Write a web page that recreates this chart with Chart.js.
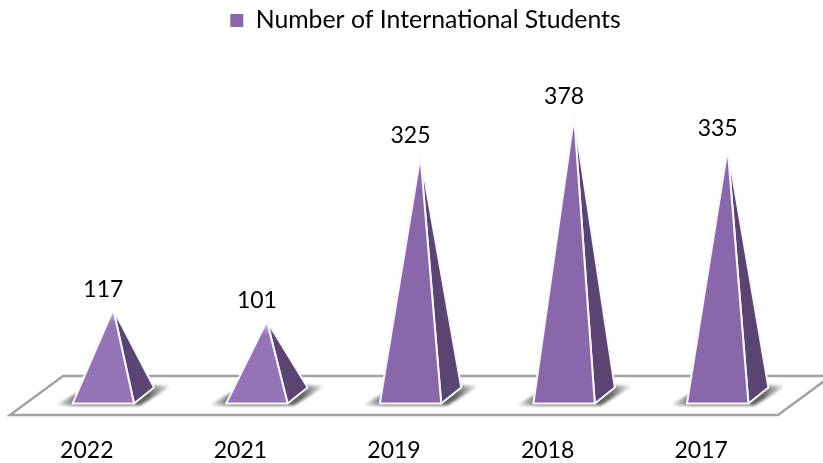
<!DOCTYPE html>
<html>
<head>
<meta charset="utf-8">
<style>
  html, body { margin: 0; padding: 0; background: #fff; }
  #wrap { width: 823px; height: 463px; }
</style>
<script src="https://cdn.jsdelivr.net/npm/chart.js@4"></script>
</head>
<body>
<div id="wrap"><canvas id="chart"></canvas></div>
<script>
const years = ['2022', '2021', '2019', '2018', '2017']
const students = [117, 101, 325, 378, 335]
const seriesName = 'Number of International Students'

const FONT = 'Lato, Carlito, sans-serif'
const PURPLE = '#8968aa'
const PURPLE_LIGHT = '#9474b7'
const PURPLE_DARK = '#5a4572'

// floor is drawn as a slanted plane, bars stand halfway into it
const FLOOR_DX = 53
const FLOOR_DY = 39
const BASE_DX = 20
const BASE_DY = 16
const LEGEND_SHIFT = 63

const pyramidPlugin = {
  id: 'pyramids',

  // legend sits right of the plot centre in the original
  afterLayout(chart) {
    chart.legend.left += LEGEND_SHIFT
  },

  beforeDatasetsDraw(chart) {
    const { ctx, chartArea } = chart
    const { left, right, bottom } = chartArea
    ctx.save()
    ctx.beginPath()
    ctx.moveTo(left, bottom)
    ctx.lineTo(right, bottom)
    ctx.lineTo(right + FLOOR_DX, bottom - FLOOR_DY)
    ctx.lineTo(left + FLOOR_DX, bottom - FLOOR_DY)
    ctx.closePath()
    ctx.fillStyle = '#ffffff'
    ctx.fill()
    ctx.strokeStyle = '#a3a3a3'
    ctx.lineWidth = 2.5
    ctx.stroke()
    ctx.restore()
  },

  // cancel the flat bars, draw pyramids from the same elements instead
  beforeDatasetDraw(chart, args) {
    const { ctx } = chart
    const meta = chart.getDatasetMeta(args.index)
    const values = chart.data.datasets[args.index].data

    meta.data.forEach((bar, i) => {
      const half = bar.width / 2
      const cx = bar.x + FLOOR_DX / 2
      const apexY = bar.y - FLOOR_DY / 2
      const baseY = bar.base - FLOOR_DY / 2
      const frontL = cx - BASE_DX / 2 - half
      const frontR = cx - BASE_DX / 2 + half
      const frontY = baseY + BASE_DY / 2
      const backR = frontR + BASE_DX
      const backY = frontY - BASE_DY

      // floor shadow, darkest next to the base and fading out sideways
      const shade = ctx.createLinearGradient(frontL - 18, 0, backR + 18, 0)
      shade.addColorStop(0, 'rgba(90,90,90,0)')
      shade.addColorStop(0.2, 'rgba(90,90,90,0.95)')
      shade.addColorStop(0.8, 'rgba(90,90,90,0.95)')
      shade.addColorStop(1, 'rgba(90,90,90,0)')
      ctx.save()
      ctx.filter = 'blur(1.5px)'
      ctx.fillStyle = shade
      ctx.beginPath()
      ctx.moveTo(frontL - 18, frontY + 2)
      ctx.lineTo(frontL + 4, frontY - 10)
      ctx.lineTo(backR, backY - 2)
      ctx.lineTo(backR + 18, backY - 2)
      ctx.lineTo(frontR + 6, frontY + 2)
      ctx.closePath()
      ctx.fill()
      ctx.restore()

      ctx.save()
      ctx.lineJoin = 'round'
      ctx.strokeStyle = '#f8f6fa'
      ctx.lineWidth = 2

      // side face
      ctx.fillStyle = PURPLE_DARK
      ctx.beginPath()
      ctx.moveTo(cx, apexY)
      ctx.lineTo(frontR, frontY)
      ctx.lineTo(backR, backY)
      ctx.closePath()
      ctx.fill()
      ctx.stroke()

      // front face
      ctx.fillStyle = bar.options.backgroundColor
      ctx.beginPath()
      ctx.moveTo(cx, apexY)
      ctx.lineTo(frontL, frontY)
      ctx.lineTo(frontR, frontY)
      ctx.closePath()
      ctx.fill()
      ctx.stroke()

      // tip fades into the background
      const fade = ctx.createLinearGradient(0, apexY - 8, 0, apexY + 14)
      fade.addColorStop(0, 'rgba(255,255,255,1)')
      fade.addColorStop(1, 'rgba(255,255,255,0)')
      ctx.fillStyle = fade
      ctx.fillRect(cx - 8, apexY - 8, 16, 22)
      ctx.restore()

      // value label
      ctx.save()
      ctx.font = '23px ' + FONT
      ctx.fillStyle = '#000000'
      ctx.textAlign = 'center'
      ctx.textBaseline = 'middle'
      ctx.fillText(values[i], cx - 10, apexY - 20)
      ctx.restore()
    })
    return false
  },
}

new Chart(document.getElementById('chart'), {
  type: 'bar',
  data: {
    labels: years,
    datasets: [{
      label: seriesName,
      data: students,
      backgroundColor: (c) => (c.raw !== undefined && c.raw < 200 ? PURPLE_LIGHT : PURPLE),
      borderWidth: 0,
      barPercentage: 0.4,
      categoryPercentage: 1,
    }],
  },
  options: {
    responsive: true,
    maintainAspectRatio: false,
    animation: false,
    layout: { padding: { left: 10, right: 45, top: 0, bottom: 0 } },
    plugins: {
      tooltip: { enabled: false },
      legend: {
        position: 'top',
        labels: {
          color: '#000000',
          font: { family: FONT, size: 24.8 },
          boxWidth: 13,
          boxHeight: 13,
          padding: 8,
          generateLabels: () => [{
            text: seriesName,
            fillStyle: PURPLE,
            strokeStyle: PURPLE,
            lineWidth: 0,
            datasetIndex: 0,
          }],
        },
      },
    },
    scales: {
      x: {
        grid: { display: false, drawTicks: false },
        border: { display: false },
        afterFit(scale) { scale.height = 48 },
        ticks: {
          color: '#000000',
          font: { family: FONT, size: 23 },
          padding: 22,
          maxRotation: 0,
        },
      },
      y: {
        display: false,
        min: 0,
        max: 505,
        grid: { display: false },
      },
    },
  },
  plugins: [pyramidPlugin],
})
</script>
</body>
</html>
